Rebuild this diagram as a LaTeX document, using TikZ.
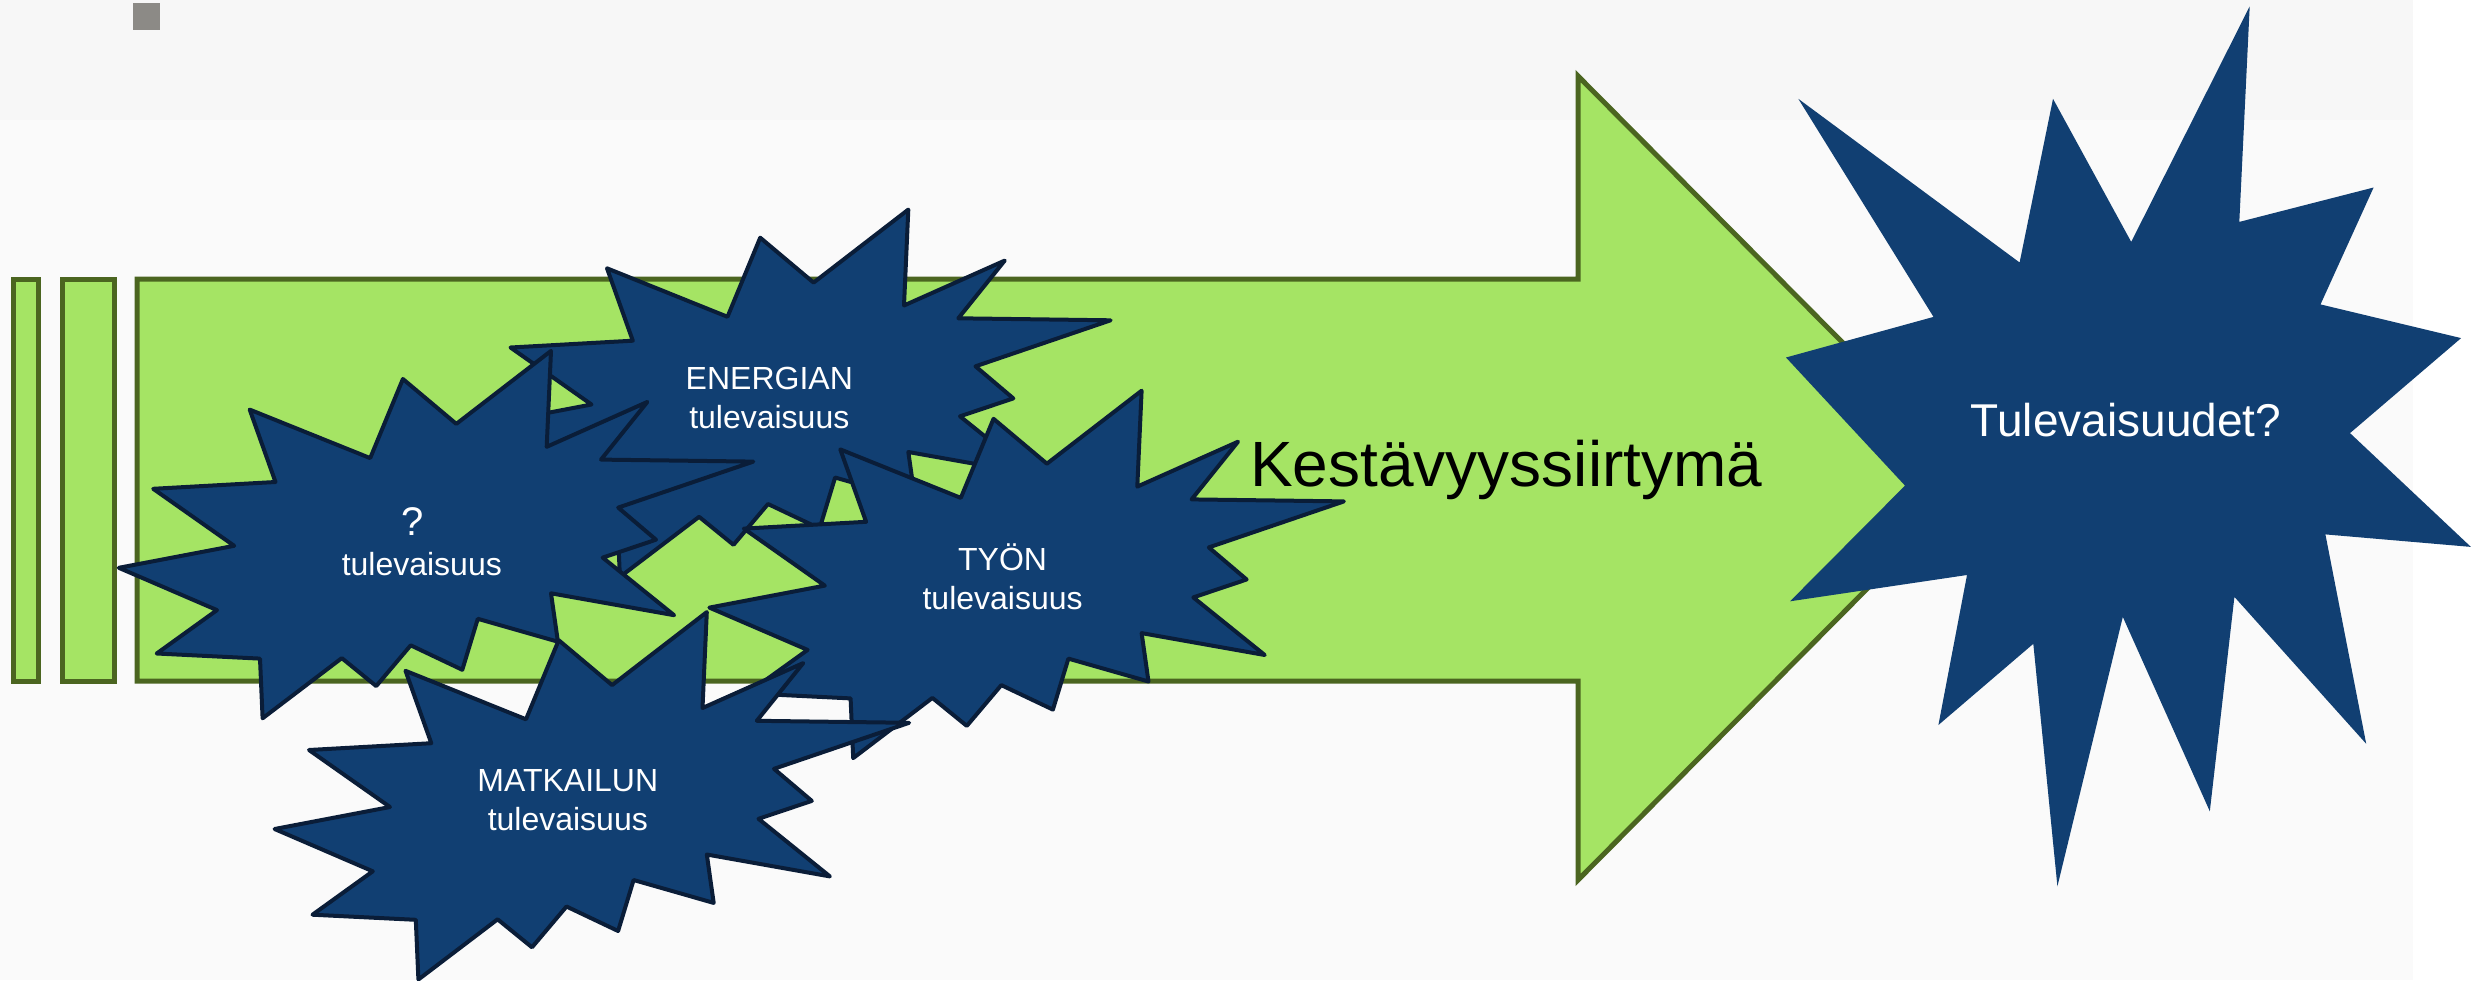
\documentclass[tikz,border=0pt]{standalone}
\usepackage{fontspec}
\setmainfont{Liberation Sans}
\definecolor{bgA}{HTML}{F7F7F7}
\definecolor{bgB}{HTML}{FAFAFA}
\definecolor{starblue}{HTML}{113F72}
\definecolor{starline}{HTML}{0A1D38}
\definecolor{arrowgreen}{HTML}{A5E464}
\definecolor{arrowline}{HTML}{4B6520}
\definecolor{squaregrey}{HTML}{8C8A86}
\newcommand\smallstarpath{(249.7,409.6) -- (370.2,458.1) -- (402.9,379.0) -- (456.3,423.9) -- (551.0,350.9) -- (546.7,446.8) -- (647.4,401.9) -- (601.0,459.6) -- (753.3,461.6) -- (618.2,507.6) -- (656.0,539.7) -- (602.7,557.6) -- (674.1,615.2) -- (551.0,593.3) -- (557.9,641.7) -- (477.8,618.8) -- (462.3,669.8) -- (410.7,645.3) -- (376.2,686.1) -- (341.8,658.1) -- (262.6,718.3) -- (260.0,658.6) -- (156.7,653.5) -- (217.0,610.1) -- (118.8,567.8) -- (234.2,545.8) -- (153.2,488.8) -- (275.5,482.0) -- cycle}
\tikzset{
  starshape/.style={fill=starblue, draw=starline, line width=4pt, line join=round},
  greenbox/.style={fill=arrowgreen, draw=arrowline, line width=5pt, line join=miter},
  starlabel/.style={text=white, font=\fontsize{32}{39}\selectfont, align=center, inner sep=0pt},
}
\begin{document}
\begin{tikzpicture}[x=1pt,y=-1pt]
\useasboundingbox (0,0) rectangle (2471,980);
% background
\fill[white] (0,0) rectangle (2471,980);
\fill[bgB] (0,120) rectangle (2413,980);
\fill[bgA] (0,0) rectangle (2413,120);
\fill[squaregrey] (133,3) rectangle (160,30);
% bars and arrow
\draw[greenbox] (13,279) rectangle (38,681);
\draw[greenbox] (62,279) rectangle (114,681);
\draw[greenbox] (137,279) -- (1578,279) -- (1578,76) -- (1977,478) -- (1578,880) -- (1578,681) -- (137,681) -- cycle;
\node[anchor=base west, inner sep=0pt, font=\fontsize{64}{76}\selectfont] (kest) at (1250,486) {Kestävyyssiirtymä};
% big star
\fill[starblue] (2249.7,6.3) -- (2239.3,221.9) -- (2373.6,187.5) -- (2320.5,304.4) -- (2461.1,338.1) -- (2350.0,433.1) -- (2470.9,546.9) -- (2325.4,534.4) -- (2366.2,743.8) -- (2234.4,596.9) -- (2209.8,811.3) -- (2122.8,616.9) -- (2057.4,886.3) -- (2033.3,643.8) -- (1938.4,725.0) -- (1967.0,575.0) -- (1790.0,601.3) -- (1905.0,485.6) -- (1786.0,357.5) -- (1933.5,316.9) -- (1798.3,98.8) -- (2019.6,262.5) -- (2053.0,98.8) -- (2131.2,241.9) -- cycle;
\node[text=white, inner sep=0pt, font=\fontsize{46}{55}\selectfont] (tulevaisuudet) at (2126,420) {Tulevaisuudet?};
% small stars
\draw[starshape, shift={(357.3,-141.3)}] \smallstarpath;
\node[starlabel] (energia) at (769.3,395.7) {\vphantom{Ö}ENERGIAN\\tulevaisuus};
\draw[starshape] \smallstarpath;
\node[starlabel, anchor=base, font=\fontsize{40}{48}\selectfont] (kysymys) at (413,535.7) {?};
\node[starlabel, anchor=base] (kysymysb) at (421.8,575) {tulevaisuus};
\draw[starshape, shift={(590.6,39.8)}] \smallstarpath;
\node[starlabel] (tyo) at (1002.6,576.8) {\vphantom{Ö}TYÖN\\tulevaisuus};
\draw[starshape, shift={(155.8,261.2)}] \smallstarpath;
\node[starlabel] (matkailu) at (567.8,798.2) {\vphantom{Ö}MATKAILUN\\tulevaisuus};
\end{tikzpicture}
\end{document}
